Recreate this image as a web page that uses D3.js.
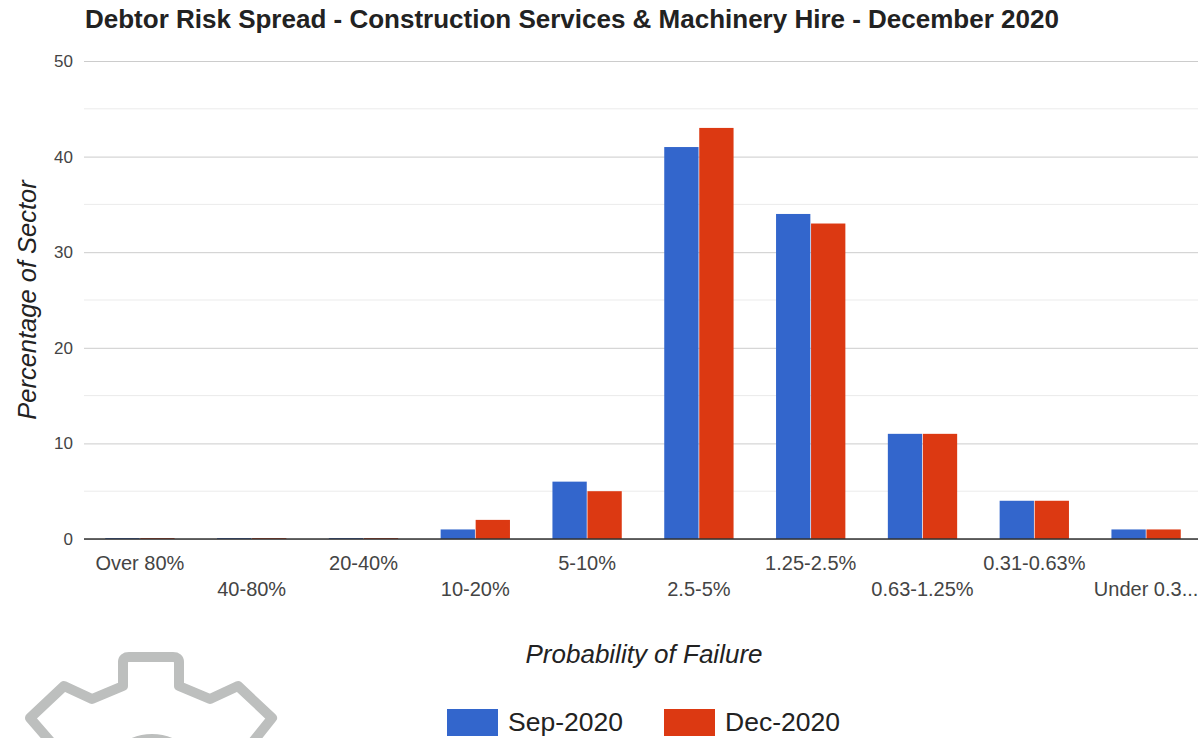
<!DOCTYPE html>
<html>
<head>
<meta charset="utf-8">
<script src="https://cdn.jsdelivr.net/npm/d3@7"></script>
<style>
  body { margin: 0; background: #fff; }
  text { font-family: "Liberation Sans", Arial, sans-serif; }
</style>
</head>
<body>
<script>
const categories = ["Over 80%", "40-80%", "20-40%", "10-20%", "5-10%", "2.5-5%", "1.25-2.5%", "0.63-1.25%", "0.31-0.63%", "Under 0.3..."];
const seriesNames = ["Sep-2020", "Dec-2020"];
const sep2020 = [0, 0, 0, 1, 6, 41, 34, 11, 4, 1];
const dec2020 = [0, 0, 0, 2, 5, 43, 33, 11, 4, 1];
const yTicks = [0, 10, 20, 30, 40, 50];
const colors = ["#3366cc", "#dc3912"];

const width = 1198, height = 738;
const svg = d3.select("body").append("svg")
    .attr("width", width)
    .attr("height", height);

// logo in the corner (just decoration)
const gear = d3.path();
gear.moveTo(56, 748);
gear.lineTo(30, 718);
gear.lineTo(64, 686);
gear.lineTo(92, 699);
gear.lineTo(123, 686);
gear.lineTo(123, 662);
gear.quadraticCurveTo(123, 657, 129, 657);
gear.lineTo(173, 657);
gear.quadraticCurveTo(179, 657, 179, 662);
gear.lineTo(179, 686);
gear.lineTo(210, 699);
gear.lineTo(238, 686);
gear.lineTo(272, 718);
gear.lineTo(248, 748);
svg.append("path")
    .attr("d", gear.toString())
    .attr("fill", "none")
    .attr("stroke", "#bdbfbe")
    .attr("stroke-width", 10)
    .attr("stroke-linejoin", "round");
svg.append("circle")
    .attr("cx", 152).attr("cy", 785).attr("r", 46)
    .attr("fill", "none").attr("stroke", "#bdbfbe").attr("stroke-width", 10);

const x0 = d3.scaleBand()
    .domain(categories)
    .range([84, 1202])
    .paddingInner(0.38)
    .paddingOuter(0.19);

const x1 = d3.scaleBand()
    .domain(seriesNames)
    .range([0, x0.bandwidth()])
    .paddingInner(0.02);

const y = d3.scaleLinear()
    .domain([0, 50])
    .range([539, 61]);

// minor gridlines
svg.append("g").selectAll("line")
    .data(d3.range(5, 50, 10))
    .join("line")
    .attr("x1", 84).attr("x2", width)
    .attr("y1", d => y(d)).attr("y2", d => y(d))
    .attr("stroke", "#ebebeb");

// major gridlines + labels
const yAxis = svg.append("g")
    .attr("transform", "translate(84,0)")
    .call(d3.axisLeft(y).tickValues(yTicks).tickSize(-(width - 84)).tickPadding(11));
yAxis.select(".domain").remove();
yAxis.selectAll(".tick line").attr("stroke", "#cccccc");
yAxis.selectAll(".tick text")
    .attr("fill", "#444")
    .style("font-size", "17px")
    .style("font-family", "'Liberation Sans', Arial, sans-serif");

const groups = svg.append("g").selectAll("g")
    .data(categories)
    .join("g")
    .attr("transform", d => `translate(${x0(d)},0)`);

groups.selectAll("rect")
    .data((d, i) => [sep2020[i], dec2020[i]].map((v, j) => ({ key: seriesNames[j], value: v, c: j })))
    .join("rect")
    .attr("x", d => x1(d.key))
    .attr("width", x1.bandwidth())
    .attr("y", d => Math.min(y(d.value), y(0) - 1))
    .attr("height", d => Math.max(1, y(0) - y(d.value)))
    .attr("fill", d => colors[d.c]);

// baseline
svg.append("line")
    .attr("x1", 84).attr("x2", width)
    .attr("y1", y(0)).attr("y2", y(0))
    .attr("stroke", "#333").attr("stroke-width", 1.5);

// staggered category labels
svg.append("g").selectAll("text")
    .data(categories)
    .join("text")
    .attr("x", d => x0(d) + x0.bandwidth() / 2)
    .attr("y", (d, i) => i % 2 === 0 ? 570 : 596)
    .attr("text-anchor", "middle")
    .attr("fill", "#444")
    .style("font-size", "20px")
    .text(d => d);

// title
svg.append("text")
    .attr("x", 85).attr("y", 28)
    .attr("fill", "#222")
    .style("font-size", "26px")
    .style("font-weight", "bold")
    .text("Debtor Risk Spread - Construction Services & Machinery Hire - December 2020");

// axis titles
svg.append("text")
    .attr("transform", "translate(36,300) rotate(-90)")
    .attr("text-anchor", "middle")
    .attr("fill", "#222")
    .style("font-size", "25.5px")
    .style("font-style", "italic")
    .text("Percentage of Sector");

svg.append("text")
    .attr("x", 644).attr("y", 663)
    .attr("text-anchor", "middle")
    .attr("fill", "#222")
    .style("font-size", "26px")
    .style("font-style", "italic")
    .text("Probability of Failure");

// legend
const legend = svg.append("g").selectAll("g")
    .data(seriesNames)
    .join("g")
    .attr("transform", (d, i) => `translate(${i === 0 ? 447 : 664},709)`);
legend.append("rect")
    .attr("width", 51).attr("height", 27)
    .attr("fill", (d, i) => colors[i]);
legend.append("text")
    .attr("x", 61).attr("y", 22)
    .attr("fill", "#222")
    .style("font-size", "26.5px")
    .text(d => d);
</script>
</body>
</html>
